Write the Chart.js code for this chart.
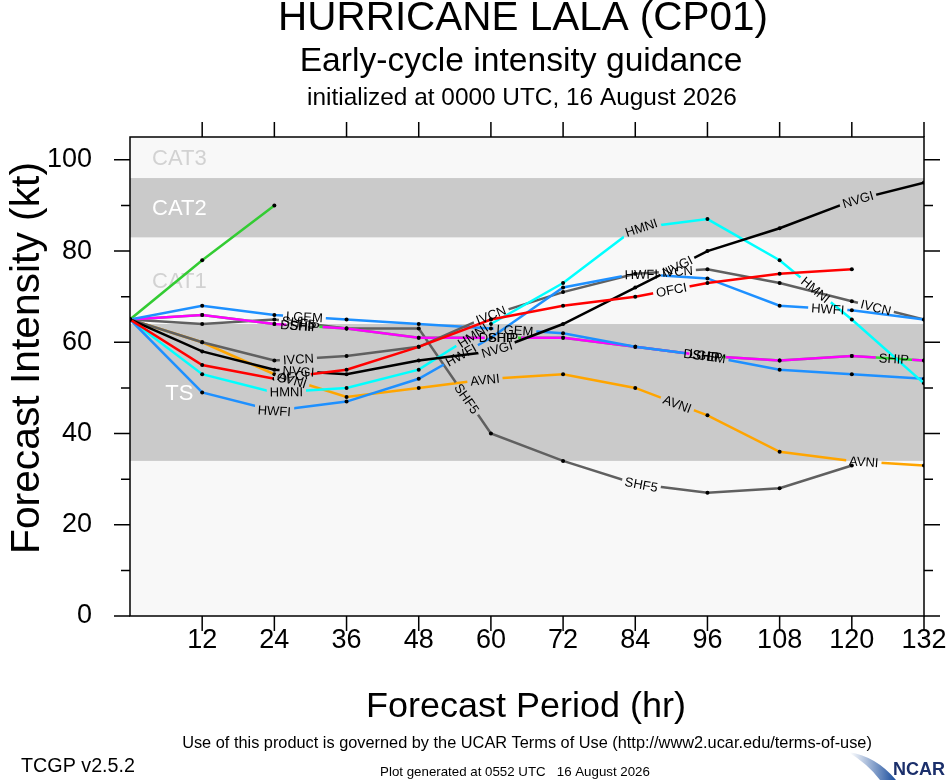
<!DOCTYPE html>
<html>
<head>
<meta charset="utf-8">
<title>Hurricane LALA (CP01) - Early-cycle intensity guidance</title>
<script src="https://cdn.jsdelivr.net/npm/chart.js@4.4.1/dist/chart.umd.min.js"></script>
<style>
  html, body { margin: 0; padding: 0; background: #fff; }
  canvas { display: block; }
</style>
</head>
<body>
<canvas id="chart" width="946" height="780"></canvas>
<script>
// ────────────────────────────────────────────────
// Data (kt), one value per forecast hour, null = no forecast
// ────────────────────────────────────────────────
const hours = [0, 12, 24, 36, 48, 60, 72, 84, 96, 108, 120, 132];

const ofci = [65, 55, 52, 54, 59, 65, 68, 70, 73, 75, 76, null];
const nvgi = [65, 58, 54, 53, 56, 58, 64, 72, 80, 85, 91, 95];
const hwfi = [65, 49, 45, 47, 52, 61, 72, 75, 74, 68, 67, 65];
const hmni = [65, 53, 49, 50, 54, 64, 73, 85, 87, 78, 65, 51];
const ivcn = [65, 60, 56, 57, 59, 66, 71, 75, 76, 73, 69, 65];
const lgem = [65, 68, 66, 65, 64, 63, 62, 59, 57, 54, 53, 52];
const ship = [65, 66, 64, 63, 61, 61, 61, 59, 57, 56, 57, 56];
const dshp = [65, 66, 64, 63, 61, 61, 61, 59, 57, 56, 57, 56];
const shf5 = [65, 64, 65, 63, 63, 40, 34, 29, 27, 28, 33, null];
const avni = [65, 60, 53, 48, 50, 52, 53, 50, 44, 36, 34, 33];
const shortGreen = [65, 78, 90, null, null, null, null, null, null, null, null, null];

// Intensity categories shaded behind the guidance
const bandNames = ['TS', 'CAT1', 'CAT2', 'CAT3'];
const bandLow = [34, 64, 83, 96];
const bandHigh = [64, 83, 96, 105];

const xTickLabels = [12, 24, 36, 48, 60, 72, 84, 96, 108, 120, 132];
const yTickLabels = [0, 20, 40, 60, 80, 100];

// ────────────────────────────────────────────────
// Styling
// ────────────────────────────────────────────────
const FONT = '"Liberation Sans", Arial, Helvetica, sans-serif';
const LIGHT = '#f8f8f8';
const DARK = '#cacaca';

// first entry is drawn on top
const series = [
    { name: 'OFCI', values: ofci, color: '#ff0000', labelsAt: [27, 90] },
    { name: 'NVGI', values: nvgi, color: '#000000', labelsAt: [28, 61, 91, 121] },
    { name: 'HWFI', values: hwfi, color: '#1e90ff', labelsAt: [24, 55, 85, 116] },
    { name: 'HMNI', values: hmni, color: '#00ffff', labelsAt: [26, 57, 85, 114] },
    { name: 'IVCN', values: ivcn, color: '#606060', labelsAt: [28, 60, 91, 124] },
    { name: 'LGEM', values: lgem, color: '#1e90ff', labelsAt: [29, 64, 96] },
    { name: 'SHIP', values: ship, color: '#ff00ff', labelsAt: [29, 62, 96, 127] },
    { name: 'DSHP', values: dshp, color: '#33dd33', labelsAt: [28, 61, 95] },
    { name: 'SHF5', values: shf5, color: '#606060', labelsAt: [28, 56, 85] },
    { name: 'AVNI', values: avni, color: '#ffa500', labelsAt: [27, 59, 91, 122] },
    { name: '', values: shortGreen, color: '#33cc33', labelsAt: [] }
];

// ────────────────────────────────────────────────
// Helpers
// ────────────────────────────────────────────────

/**
 * Pixel position along a series at a (fractional) forecast hour
 */
function pointAt(chart, s, h) {
    const i = hours.findIndex((hh, k) => k < hours.length - 1 && h >= hh && h <= hours[k + 1]);
    if (i < 0) return null;
    const v0 = s.values[i], v1 = s.values[i + 1];
    if (v0 == null || v1 == null) return null;
    const t = (h - hours[i]) / (hours[i + 1] - hours[i]);
    return {
        x: chart.scales.x.getPixelForValue(h),
        y: chart.scales.y.getPixelForValue(v0 + t * (v1 - v0))
    };
}

/**
 * Where each in-line model label sits (centre, angle, text width)
 */
function labelBoxes(chart, index) {
    const s = series[index];
    const ctx = chart.ctx;
    ctx.font = `13px ${FONT}`;
    const boxes = [];
    s.labelsAt.forEach(h => {
        const c = pointAt(chart, s, h);
        if (!c) return;
        const a = pointAt(chart, s, h - 3) || c;
        const b = pointAt(chart, s, h + 3) || c;
        boxes.push({
            x: c.x,
            y: c.y,
            angle: Math.atan2(b.y - a.y, b.x - a.x),
            w: ctx.measureText(s.name).width
        });
    });
    return boxes;
}

/**
 * Draw text centred on (cx, cy), sized so it is `width` px wide
 */
function fitText(ctx, text, cx, cy, width, weight = '') {
    ctx.font = `${weight} 100px ${FONT}`;
    const size = 100 * width / ctx.measureText(text).width;
    ctx.font = `${weight} ${size}px ${FONT}`;
    ctx.fillText(text, cx, cy);
}

// ────────────────────────────────────────────────
// Plugin: bands, label gaps, frame, titles
// ────────────────────────────────────────────────
const decor = {
    id: 'tcgpDecor',

    beforeDatasetsDraw(chart) {
        const { ctx, chartArea: a, scales: { x, y } } = chart;
        ctx.save();
        ctx.fillStyle = LIGHT;
        ctx.fillRect(a.left, a.top, a.right - a.left, a.bottom - a.top);
        ctx.font = `22px ${FONT}`;
        ctx.textAlign = 'center';
        ctx.textBaseline = 'middle';
        bandNames.forEach((name, i) => {
            const top = y.getPixelForValue(bandHigh[i]);
            const bot = y.getPixelForValue(bandLow[i]);
            const dark = i % 2 === 0;
            if (dark) {
                ctx.fillStyle = DARK;
                ctx.fillRect(a.left, top, a.right - a.left, bot - top);
            }
            ctx.fillStyle = dark ? '#ffffff' : '#d2d2d2';
            ctx.fillText(name, x.getPixelForValue(8.2), (top + bot) / 2 + 1);
        });
        ctx.restore();
    },

    // cut a gap in the line where its own labels go
    beforeDatasetDraw(chart, args) {
        const ctx = chart.ctx;
        const boxes = labelBoxes(chart, args.index);
        ctx.save();
        if (!boxes.length) return;
        ctx.beginPath();
        ctx.rect(0, 0, chart.width, chart.height);
        boxes.forEach(b => {
            const c = Math.cos(b.angle), s = Math.sin(b.angle);
            const hw = b.w / 2 + 3, hh = 7;
            const corners = [[-hw, -hh], [hw, -hh], [hw, hh], [-hw, hh]]
                .map(([u, v]) => [b.x + u * c - v * s, b.y + u * s + v * c]);
            ctx.moveTo(corners[0][0], corners[0][1]);
            corners.slice(1).forEach(p => ctx.lineTo(p[0], p[1]));
            ctx.closePath();
        });
        ctx.clip('evenodd');
    },

    afterDatasetDraw(chart) {
        chart.ctx.restore();
    },

    afterDatasetsDraw(chart) {
        const ctx = chart.ctx;
        ctx.save();
        ctx.fillStyle = '#000';
        ctx.textAlign = 'center';
        ctx.textBaseline = 'middle';
        for (let i = series.length - 1; i >= 0; i--) {
            labelBoxes(chart, i).forEach(b => {
                ctx.save();
                ctx.translate(b.x, b.y);
                ctx.rotate(b.angle);
                ctx.font = `13px ${FONT}`;
                ctx.fillText(series[i].name, 0, 1);
                ctx.restore();
            });
        }
        ctx.restore();
    },

    afterDraw(chart) {
        const { ctx, chartArea: a, scales: { x, y } } = chart;
        ctx.save();

        // frame and tick marks
        ctx.strokeStyle = '#000';
        ctx.lineWidth = 1.5;
        ctx.strokeRect(a.left, a.top, a.right - a.left, a.bottom - a.top);
        ctx.beginPath();
        y.ticks.forEach(t => {
            const py = y.getPixelForValue(t.value);
            const len = yTickLabels.includes(t.value) ? 16 : 9;
            ctx.moveTo(a.left - len, py);
            ctx.lineTo(a.left, py);
            ctx.moveTo(a.right, py);
            ctx.lineTo(a.right + len, py);
        });
        x.ticks.forEach(t => {
            if (!xTickLabels.includes(t.value)) return;
            const px = x.getPixelForValue(t.value);
            ctx.moveTo(px, a.bottom);
            ctx.lineTo(px, a.bottom + 15);
            ctx.moveTo(px, a.top - 15);
            ctx.lineTo(px, a.top);
        });
        ctx.stroke();

        // titles
        ctx.fillStyle = '#000';
        ctx.textAlign = 'center';
        ctx.textBaseline = 'middle';
        fitText(ctx, 'HURRICANE LALA (CP01)', 523, 19, 490);
        fitText(ctx, 'Early-cycle intensity guidance', 521, 62, 443);
        fitText(ctx, 'initialized at 0000 UTC, 16 August 2026', 522, 98, 430);
        fitText(ctx, 'Forecast Period (hr)', 526, 707, 320);

        ctx.save();
        ctx.translate(28, 358);
        ctx.rotate(-Math.PI / 2);
        fitText(ctx, 'Forecast Intensity (kt)', 0, 0, 392);
        ctx.restore();

        // footer
        fitText(ctx, 'Use of this product is governed by the UCAR Terms of Use (http://www2.ucar.edu/terms-of-use)', 527, 743, 690);
        fitText(ctx, 'TCGP v2.5.2', 78, 767, 114);
        fitText(ctx, 'Plot generated at 0552 UTC   16 August 2026', 515, 772, 270);

        // NCAR logo
        const g = ctx.createLinearGradient(850, 0, 895, 0);
        g.addColorStop(0, '#ffffff');
        g.addColorStop(1, '#1d4f9e');
        ctx.fillStyle = g;
        ctx.beginPath();
        ctx.moveTo(848, 752);
        ctx.quadraticCurveTo(876, 756, 896, 780);
        ctx.lineTo(880, 780);
        ctx.quadraticCurveTo(868, 764, 848, 752);
        ctx.fill();
        ctx.fillStyle = '#1b2f6b';
        fitText(ctx, 'NCAR', 919, 770, 52, 'bold');

        ctx.restore();
    }
};

// ────────────────────────────────────────────────
// Chart
// ────────────────────────────────────────────────
const datasets = series.map(s => ({
    label: s.name,
    data: hours.map((h, i) => ({ x: h, y: s.values[i] })).filter(p => p.y !== null),
    borderColor: s.color,
    borderWidth: 2.5,
    pointRadius: 2,
    pointBackgroundColor: '#000',
    pointBorderWidth: 0,
    tension: 0,
    fill: false
}));

new Chart(document.getElementById('chart'), {
    type: 'line',
    data: { datasets },
    options: {
        responsive: false,
        animation: false,
        events: [],
        layout: { padding: { top: 137, right: 22, left: 0, bottom: 0 } },
        plugins: {
            legend: { display: false },
            tooltip: { enabled: false }
        },
        scales: {
            x: {
                type: 'linear',
                min: 0,
                max: 132,
                grid: { display: false },
                border: { display: false },
                ticks: {
                    stepSize: 12,
                    autoSkip: false,
                    maxRotation: 0,
                    padding: 0,
                    color: '#000',
                    font: { family: FONT, size: 27 },
                    callback: v => xTickLabels.includes(v) ? String(v) : ''
                },
                // the "132" label may hang past the frame, keep the plot full width
                afterFit: s => {
                    s.height = 164;
                    s.paddingLeft = 0;
                    s.paddingRight = 0;
                }
            },
            y: {
                min: 0,
                max: 105,
                grid: { display: false },
                border: { display: false },
                ticks: {
                    stepSize: 10,
                    includeBounds: false,
                    autoSkip: false,
                    padding: 30,
                    color: '#000',
                    font: { family: FONT, size: 27 },
                    callback: v => yTickLabels.includes(v) ? String(v) : ''
                },
                afterFit: s => {
                    s.width = 130;
                    s.paddingTop = 0;
                    s.paddingBottom = 0;
                }
            }
        }
    },
    plugins: [decor]
});
</script>
</body>
</html>
